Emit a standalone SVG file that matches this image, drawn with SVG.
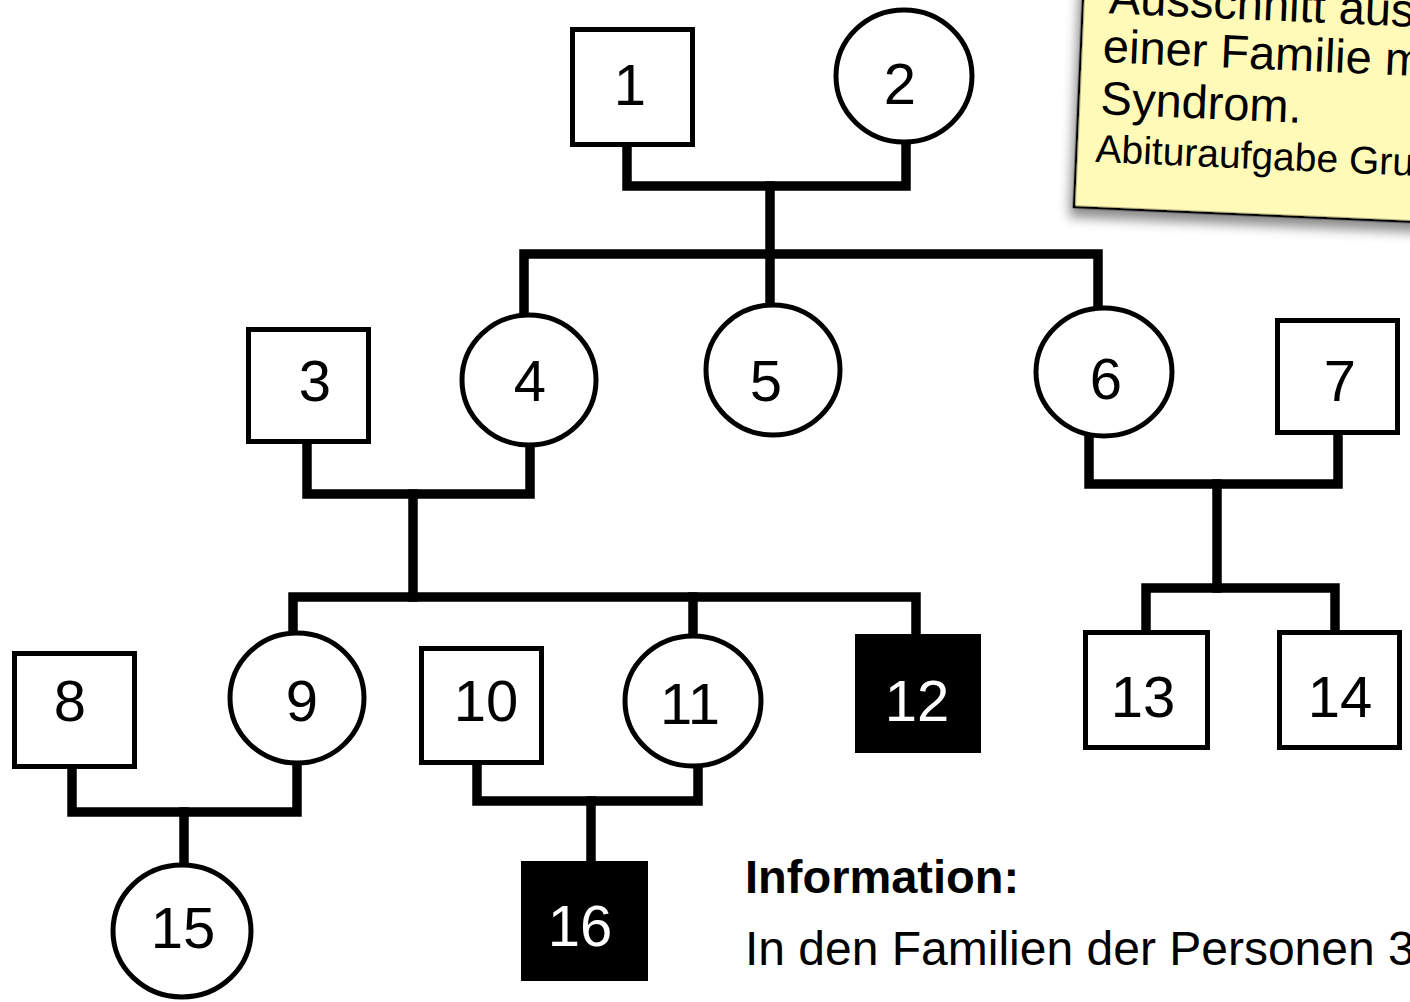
<svg xmlns="http://www.w3.org/2000/svg" width="1410" height="1002" viewBox="0 0 1410 1002">
<style>
.n{fill:#fff;stroke:#000;stroke-width:5}
.a{fill:#000;stroke:#000;stroke-width:2}
.l{font-family:"Liberation Sans",Arial,sans-serif;font-size:58px;text-anchor:middle;fill:#000}
.w{fill:#fff}
.c{fill:none;stroke:#000;stroke-width:9.5;stroke-linejoin:miter;stroke-linecap:square}
.s{font-family:"Liberation Sans",Arial,sans-serif;fill:#000}
</style>
<defs>
<filter id="sh" x="-20%" y="-20%" width="140%" height="140%">
<feDropShadow dx="-3" dy="9" stdDeviation="6" flood-color="#000" flood-opacity="0.45"/>
</filter>
</defs>
<rect width="1410" height="1002" fill="#fff"/>

<g id="connectors">
<path class="c" d="M627 149 V186 H906 V145"/>
<path class="c" d="M770 186 V254"/>
<path class="c" d="M524 313 V254 H1098 V305"/>
<path class="c" d="M770 254 V302"/>
<path class="c" d="M307 444 V494 H530 V447"/>
<path class="c" d="M413 494 V597"/>
<path class="c" d="M293 631 V597 H916 V634"/>
<path class="c" d="M693 597 V633"/>
<path class="c" d="M1089 438 V484 H1338 V434"/>
<path class="c" d="M1217 484 V588"/>
<path class="c" d="M1146 632 V588 H1335 V630"/>
<path class="c" d="M72 769 V812 H297 V765"/>
<path class="c" d="M184 812 V862"/>
<path class="c" d="M477 765 V801 H698 V769"/>
<path class="c" d="M591 801 V861"/>
</g>

<g id="n1"><rect class="n" x="572.5" y="29.5" width="120" height="115"/><text class="l" x="630" y="105">1</text></g>
<g id="n2"><ellipse class="n" cx="904" cy="76" rx="68" ry="66"/><text class="l" x="900" y="104">2</text></g>
<g id="n3"><rect class="n" x="248.5" y="329.5" width="120" height="112"/><text class="l" x="315" y="401">3</text></g>
<g id="n4"><ellipse class="n" cx="529" cy="380" rx="67" ry="65"/><text class="l" x="530" y="401">4</text></g>
<g id="n5"><ellipse class="n" cx="773" cy="370" rx="67" ry="65"/><text class="l" x="766" y="401">5</text></g>
<g id="n6"><ellipse class="n" cx="1104" cy="372" rx="68" ry="64"/><text class="l" x="1106" y="399">6</text></g>
<g id="n7"><rect class="n" x="1277.5" y="320.5" width="120" height="112"/><text class="l" x="1340" y="401">7</text></g>
<g id="n8"><rect class="n" x="14.5" y="653.5" width="120" height="113"/><text class="l" x="70" y="721">8</text></g>
<g id="n9"><ellipse class="n" cx="297" cy="698" rx="67" ry="65"/><text class="l" x="302" y="721">9</text></g>
<g id="n10"><rect class="n" x="421.5" y="648.5" width="120" height="114"/><text class="l" x="486" y="721">10</text></g>
<g id="n11"><ellipse class="n" cx="693" cy="701" rx="68" ry="65"/><text class="l" x="690" y="724">11</text></g>
<g id="n12"><rect class="a" x="856" y="635" width="124" height="117"/><text class="l w" x="917" y="721">12</text></g>
<g id="n13"><rect class="n" x="1085.5" y="632.5" width="122" height="115"/><text class="l" x="1143" y="717">13</text></g>
<g id="n14"><rect class="n" x="1279.5" y="632.5" width="120" height="115"/><text class="l" x="1340" y="717">14</text></g>
<g id="n15"><ellipse class="n" cx="182" cy="931" rx="69" ry="66"/><text class="l" x="183" y="948">15</text></g>
<g id="n16"><rect class="a" x="522" y="862" width="125" height="118"/><text class="l w" x="580" y="946">16</text></g>

<g id="note" transform="rotate(2.5 1074 207)">
<rect x="1074" y="-300" width="500" height="507" fill="#fffab8" stroke="#000" stroke-width="2.5" filter="url(#sh)"/>
<text class="s" x="1100" y="12" font-size="47">Ausschnitt aus</text>
<text class="s" x="1096" y="61" font-size="47">einer Familie m</text>
<text class="s" x="1096" y="113" font-size="47">Syndrom.</text>
<text class="s" x="1093" y="161" font-size="39">Abituraufgabe Gru</text>
</g>

<g id="info">
<text class="s" x="745" y="893" font-size="47" font-weight="bold">Information:</text>
<text class="s" x="745" y="965" font-size="48">In den Familien der Personen 3</text>
</g>
</svg>
